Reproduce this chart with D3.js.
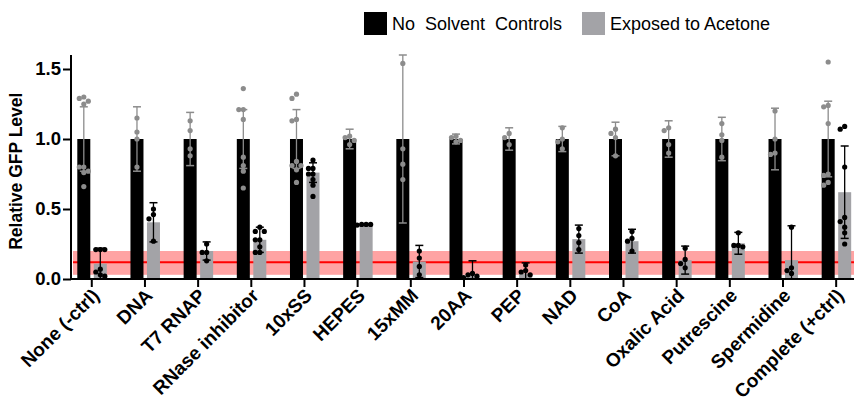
<!DOCTYPE html>
<html>
<head>
<meta charset="utf-8">
<script src="https://cdn.jsdelivr.net/npm/d3@7"></script>
<style>
  body { margin: 0; background: #fff; }
  text { font-family: "Liberation Sans", Arial, sans-serif; }
</style>
</head>
<body>
<div id="chart"></div>
<script>
// data
var categories = ["None (-ctrl)", "DNA", "T7 RNAP", "RNase inhibitor", "10xSS", "HEPES", "15xMM",
  "20AA", "PEP", "NAD", "CoA", "Oxalic Acid", "Putrescine", "Spermidine", "Complete (+ctrl)"]
var seriesNames = ["No  Solvent  Controls", "Exposed to Acetone"]

var controlMean = [1, 1, 1, 1, 1, 1, 1, 1, 1, 1, 1, 1, 1, 1, 1]
var controlSD = [0.23, 0.23, 0.19, 0.21, 0.21, 0.07, 0.60, 0.035, 0.08, 0.09, 0.12, 0.13, 0.155, 0.22, 0.27]
var controlPoints = [
  [1.30, 1.29, 1.25, 1.27, 0.80, 0.80, 0.77, 0.76, 0.66],
  [1.15, 1.05, 1.00, 0.80],
  [1.13, 1.06, 0.93, 0.88],
  [1.36, 1.21, 1.21, 1.14, 0.87, 0.81, 0.77, 0.65],
  [1.32, 1.29, 1.14, 1.13, 0.84, 0.81, 0.81, 0.78, 0.69],
  [1.02, 1.01, 0.99, 0.96],
  [1.54, 0.93, 0.82, 0.71],
  [1.02, 1.01, 0.99, 0.98],
  [1.04, 1.01, 0.96],
  [1.08, 1.00, 0.98, 0.93],
  [1.07, 1.04, 1.01, 0.88],
  [1.08, 1.06, 0.96, 0.90],
  [1.11, 1.03, 0.99, 0.87],
  [1.20, 1.00, 0.90, 0.89],
  [1.55, 1.24, 1.23, 1.11, 0.75, 0.74, 0.69, 0.67]
]

var acetoneMean = [0.11, 0.405, 0.20, 0.28, 0.76, 0.39, 0.125, 0.03, 0.04, 0.285, 0.27, 0.135, 0.255, 0.135, 0.62]
var acetoneSD = [0.11, 0.14, 0.065, 0.09, 0.07, 0.005, 0.115, 0.10, 0.075, 0.10, 0.085, 0.10, 0.078, 0.245, 0.33]
var acetonePoints = [
  [0.21, 0.21, 0.21, 0.07, 0.05, 0.03, 0.02],
  [0.50, 0.46, 0.43, 0.27],
  [0.25, 0.19, 0.19, 0.13],
  [0.37, 0.34, 0.34, 0.28, 0.28, 0.23, 0.19, 0.19],
  [0.85, 0.79, 0.79, 0.75, 0.75, 0.71, 0.67, 0.59],
  [0.39, 0.39, 0.39, 0.385],
  [0.20, 0.15, 0.09, 0.03],
  [0.04, 0.03, 0.02, 0.01],
  [0.10, 0.06, 0.05, 0.03],
  [0.36, 0.31, 0.26, 0.21],
  [0.34, 0.29, 0.27, 0.20],
  [0.22, 0.14, 0.11, 0.08],
  [0.33, 0.24, 0.24, 0.23],
  [0.37, 0.08, 0.06, 0.04],
  [1.09, 1.07, 0.80, 0.44, 0.41, 0.37, 0.33, 0.25]
]

// negative control band (mean +/- range)
var baseline = 0.12
var baselineBand = [0.03, 0.20]
var yTicks = [0, 0.5, 1.0, 1.5]

var width = 854,
    height = 404

var svg = d3.select("#chart")
  .append("svg")
    .attr("width", width)
    .attr("height", height)

var axisX = 71, axisY = 279

var y = d3.scaleLinear()
  .domain([0, 1.6])
  .range([axisY, 55])

var x0 = d3.scaleBand()
  .domain(categories)
  .range([65.2, 862.75])

var x1 = d3.scaleBand()
  .domain(["control", "acetone"])
  .range([12.1, 41.6])
  .paddingInner(0.212)

var barColor = { control: "#000000", acetone: "#a3a3a7" }
var markColor = { control: "#8c8c8c", acetone: "#000000" }

// red band for the negative control level
svg.append("rect")
  .attr("x", axisX + 2)
  .attr("width", width - axisX - 2)
  .attr("y", y(baselineBand[1]))
  .attr("height", y(baselineBand[0]) - y(baselineBand[1]))
  .attr("fill", "#ffa3a3")
svg.append("line")
  .attr("x1", axisX + 2).attr("x2", width)
  .attr("y1", y(baseline)).attr("y2", y(baseline))
  .attr("stroke", "#ff0000")
  .attr("stroke-width", 2)

// rows per group and series
var rows = []
categories.forEach(function(c, i) {
  rows.push({ cat: c, key: "control", mean: controlMean[i], sd: controlSD[i], pts: controlPoints[i] })
  rows.push({ cat: c, key: "acetone", mean: acetoneMean[i], sd: acetoneSD[i], pts: acetonePoints[i] })
})

var groups = svg.selectAll(".bar")
  .data(rows)
  .enter()
  .append("g")
    .attr("transform", function(d) { return "translate(" + (x0(d.cat) + x1(d.key)) + ",0)" })

groups.append("rect")
  .attr("x", 0)
  .attr("width", x1.bandwidth())
  .attr("y", function(d) { return y(d.mean) })
  .attr("height", function(d) { return axisY - y(d.mean) })
  .attr("fill", function(d) { return barColor[d.key] })

var mid = x1.bandwidth() / 2

// error bars
groups.append("line")
  .attr("x1", mid).attr("x2", mid)
  .attr("y1", function(d) { return y(d.mean + d.sd) })
  .attr("y2", function(d) { return y(Math.max(0, d.mean - d.sd)) })
  .attr("stroke", function(d) { return markColor[d.key] })
  .attr("stroke-width", 1.3)
groups.append("line")
  .attr("x1", mid - 4).attr("x2", mid + 4)
  .attr("y1", function(d) { return y(d.mean + d.sd) })
  .attr("y2", function(d) { return y(d.mean + d.sd) })
  .attr("stroke", function(d) { return markColor[d.key] })
  .attr("stroke-width", 1.5)
groups.filter(function(d) { return d.mean - d.sd > 0 })
  .append("line")
  .attr("x1", mid - 4).attr("x2", mid + 4)
  .attr("y1", function(d) { return y(d.mean - d.sd) })
  .attr("y2", function(d) { return y(d.mean - d.sd) })
  .attr("stroke", function(d) { return markColor[d.key] })
  .attr("stroke-width", 1.5)

// small beeswarm: shift a point sideways only when it would hit one already placed
var offsets = [0, -4.5, 4.5, -9, 9, -13.5, 13.5]
function spread(pts) {
  var placed = []
  pts.slice().sort(function(a, b) { return b - a }).forEach(function(v) {
    var py = y(v)
    var dx = offsets.find(function(o) {
      return placed.every(function(p) { return Math.hypot(p.dx - o, p.py - py) >= 4.5 })
    })
    placed.push({ v: v, py: py, dx: dx === undefined ? 0 : dx })
  })
  return placed
}

groups.selectAll("circle")
  .data(function(d) { return spread(d.pts).map(function(p) { return { v: p.v, dx: p.dx, key: d.key } }) })
  .enter()
  .append("circle")
    .attr("cx", function(d) { return mid + d.dx })
    .attr("cy", function(d) { return y(d.v) })
    .attr("r", 2.6)
    .attr("fill", function(d) { return markColor[d.key] })

// axes
var yAxis = svg.append("g")
  .attr("transform", "translate(" + axisX + ",0)")
  .call(d3.axisLeft(y).tickValues(yTicks).tickFormat(d3.format(".1f")).tickSize(8).tickPadding(2))
yAxis.select(".domain").attr("stroke-width", 2).attr("d", "M0," + y(1.6) + "V" + axisY)
yAxis.selectAll(".tick line").attr("stroke-width", 2)
yAxis.selectAll(".tick text")
  .attr("font-size", 18.5)
  .attr("font-weight", "bold")
  .attr("font-family", "Liberation Sans, Arial, sans-serif")
  .attr("fill", "#000")

var xAxis = svg.append("g")
  .attr("transform", "translate(0," + axisY + ")")
  .call(d3.axisBottom(x0).tickSize(8).tickSizeOuter(0))
xAxis.select(".domain").attr("stroke-width", 2).attr("d", "M" + (axisX - 1) + ",0H" + width)
xAxis.selectAll(".tick line").attr("stroke-width", 2)
xAxis.selectAll(".tick text")
  .attr("font-size", 19)
  .attr("font-weight", "bold")
  .attr("font-family", "Liberation Sans, Arial, sans-serif")
  .attr("fill", "#000")
  .attr("text-anchor", "end")
  .attr("x", 0).attr("y", 0).attr("dy", "0.35em")
  .attr("transform", "translate(4,13) rotate(-45)")

svg.append("text")
  .attr("transform", "translate(22," + y(0.77) + ") rotate(-90)")
  .attr("text-anchor", "middle")
  .attr("font-size", 17.5)
  .attr("font-weight", "bold")
  .text("Relative GFP Level")

// legend
var legendX = [364, 582]
var legend = svg.selectAll(".legend")
  .data(["control", "acetone"])
  .enter()
  .append("g")
    .attr("transform", function(d, i) { return "translate(" + legendX[i] + ",12)" })
legend.append("rect")
  .attr("width", 23).attr("height", 23)
  .attr("fill", function(d) { return barColor[d] })
legend.append("text")
  .attr("x", 28).attr("y", 18)
  .attr("font-size", 18)
  .style("white-space", "pre")
  .attr("xml:space", "preserve")
  .text(function(d, i) { return seriesNames[i] })
</script>
</body>
</html>
